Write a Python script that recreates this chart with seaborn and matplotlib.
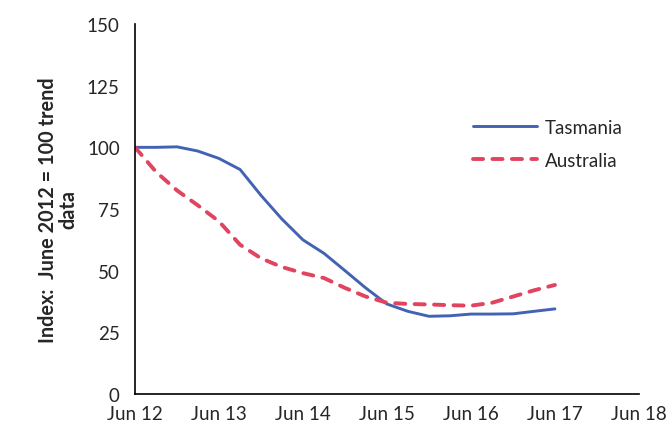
import numpy as np
import pandas as pd
import seaborn as sns
import matplotlib.pyplot as plt
import matplotlib.dates as mdates

quarters = pd.date_range("2012-06-01", "2017-06-01", freq="3MS")
tasmania = [100, 100, 100.2, 98.5, 95.5, 91, 80.5, 71, 62.5, 57, 50, 43,
            36.5, 33.5, 31.5, 31.7, 32.4, 32.4, 32.5, 33.5, 34.5]
australia = [100, 90, 82.5, 76.5, 70, 60.5, 55, 51.5, 49, 47, 43, 39.5,
             37, 36.5, 36.3, 36, 35.8, 37, 39.5, 42, 44.2]

sns.set_style("white")
plt.rcParams['font.family'] = ['Lato', 'DejaVu Sans']

fig = plt.figure(figsize=(6.69, 4.35), dpi=100)
ax = fig.add_axes([0.2018, 0.092, 0.7532, 0.8505])

sns.lineplot(x=quarters, y=tasmania, ax=ax, color="#4262B2", lw=2.1,
             label="Tasmania")
sns.lineplot(x=quarters, y=australia, ax=ax, color="#E0445F", lw=2.8,
             label="Australia", dashes=False)
ax.lines[1].set_dashes((2.6, 2.4))
ax.lines[1].set_dash_capstyle("round")

ax.set_ylim(0, 150)
ax.set_yticks(np.arange(0, 151, 25))
ax.set_xlim(pd.Timestamp("2012-06-01"), pd.Timestamp("2018-06-01"))
ax.xaxis.set_major_locator(mdates.MonthLocator(bymonth=6))
ax.xaxis.set_major_formatter(mdates.DateFormatter("Jun %y"))
ax.set_xlabel("")

for s in ["top", "right"]:
    ax.spines[s].set_visible(False)
for s in ["left", "bottom"]:
    ax.spines[s].set_color("black")
    ax.spines[s].set_linewidth(1.2)
ax.tick_params(axis="both", direction="out", length=5, width=1.2,
               color="black", labelsize=13.5, pad=3)
ax.tick_params(axis="y", pad=6)

ax.set_ylabel("Index:  June 2012 = 100 trend\ndata", fontsize=14.3,
              fontweight="bold", linespacing=1.05, labelpad=6)

leg = ax.legend(loc="upper left", bbox_to_anchor=(0.638, 0.79), frameon=False,
                fontsize=13.5, handlelength=3.4, labelspacing=0.85,
                handletextpad=0.4)
for h in leg.get_lines():
    h.set_solid_capstyle("round")
leg.get_lines()[1].set_dashes((2.6, 2.4))
leg.get_lines()[1].set_dash_capstyle("round")

fig.savefig("out.png", dpi=100)
